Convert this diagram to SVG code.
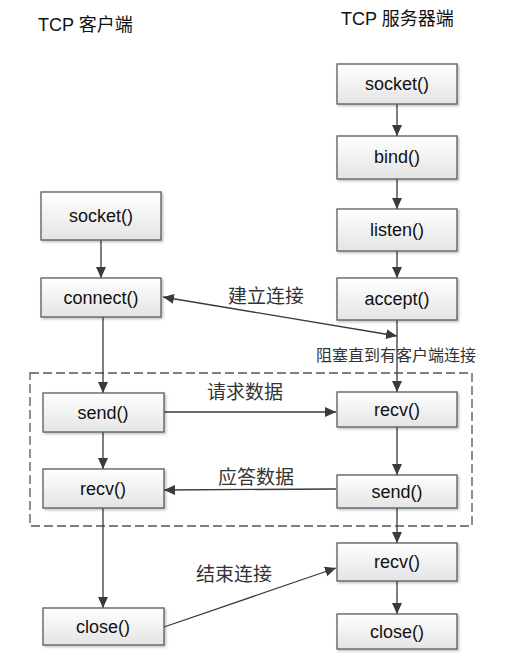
<svg xmlns="http://www.w3.org/2000/svg" width="514" height="670" viewBox="0 0 514 670">
  <defs>
    <linearGradient id="boxfill" x1="0" y1="0" x2="0" y2="1">
      <stop offset="0" stop-color="#ffffff"/>
      <stop offset="1" stop-color="#e4e4e4"/>
    </linearGradient>
    <filter id="shadow" x="-10%" y="-10%" width="125%" height="130%">
      <feDropShadow dx="1.5" dy="1.5" stdDeviation="1" flood-color="#000" flood-opacity="0.25"/>
    </filter>
    <marker id="arrow" markerUnits="userSpaceOnUse" markerWidth="12" markerHeight="12" refX="11" refY="6" orient="auto-start-reverse" viewBox="0 0 12 12">
      <path d="M0,1 L11,6 L0,11 z" fill="#3a3a3a"/>
    </marker>
  </defs>
  <style>
    .box { fill: url(#boxfill); stroke: #5a5a5a; stroke-width: 1.3; filter: url(#shadow); }
    .lbl { font-family: "Liberation Sans", "Noto Sans CJK SC", sans-serif; font-size: 18px; fill: #111; text-anchor: middle; }
    .hdr { font-family: "Liberation Sans", "Noto Sans CJK SC", sans-serif; font-size: 18px; fill: #111; }
    .cn { font-family: "Noto Sans CJK SC", sans-serif; font-size: 19px; fill: #333; text-anchor: middle; }
    .conn { stroke: #3a3a3a; stroke-width: 1.3; fill: none; marker-end: url(#arrow); }
    .dash { fill: none; stroke: #555; stroke-width: 1.3; stroke-dasharray: 9 4; }
  </style>

  <text class="hdr" x="38" y="31">TCP 客户端</text>
  <text class="hdr" x="341" y="25">TCP 服务器端</text>

  <rect class="dash" x="30" y="373" width="442" height="153"/>

  <g id="connectors">
    <!-- server column -->
    <line class="conn" x1="397" y1="104" x2="397" y2="136"/>
    <line class="conn" x1="397" y1="179" x2="397" y2="209"/>
    <line class="conn" x1="397" y1="251" x2="397" y2="278"/>
    <line class="conn" x1="397" y1="320" x2="397" y2="392"/>
    <line class="conn" x1="397" y1="427" x2="397" y2="475"/>
    <line class="conn" x1="397" y1="508" x2="397" y2="543"/>
    <line class="conn" x1="397" y1="581" x2="397" y2="614"/>
    <!-- client column -->
    <line class="conn" x1="101" y1="240" x2="101" y2="278"/>
    <line class="conn" x1="103" y1="317" x2="103" y2="393"/>
    <line class="conn" x1="103" y1="432" x2="103" y2="469"/>
    <line class="conn" x1="103" y1="508" x2="103" y2="608"/>
    <!-- cross connections -->
    <line class="conn" x1="163" y1="297" x2="397" y2="336" marker-start="url(#arrow)"/>
    <line class="conn" x1="164" y1="412" x2="336" y2="412"/>
    <line class="conn" x1="336" y1="489" x2="164" y2="490"/>
    <line class="conn" x1="164" y1="627" x2="336" y2="568"/>
  </g>

  <text class="cn" x="266" y="303">建立连接</text>
  <text class="cn" x="396" y="361" style="font-size:16px">阻塞直到有客户端连接</text>
  <text class="cn" x="245" y="399">请求数据</text>
  <text class="cn" x="256" y="484">应答数据</text>
  <text class="cn" x="234" y="581">结束连接</text>

  <g id="s_socket"><rect class="box" x="337" y="64" width="120" height="40"/><text class="lbl" x="397" y="90">socket()</text></g>
  <g id="s_bind"><rect class="box" x="337" y="136" width="120" height="43"/><text class="lbl" x="397" y="163">bind()</text></g>
  <g id="s_listen"><rect class="box" x="337" y="209" width="120" height="42"/><text class="lbl" x="397" y="236">listen()</text></g>
  <g id="s_accept"><rect class="box" x="337" y="278" width="120" height="42"/><text class="lbl" x="397" y="305">accept()</text></g>
  <g id="s_recv1"><rect class="box" x="337" y="392" width="120" height="35"/><text class="lbl" x="397" y="416">recv()</text></g>
  <g id="s_send"><rect class="box" x="337" y="475" width="120" height="33"/><text class="lbl" x="397" y="498">send()</text></g>
  <g id="s_recv2"><rect class="box" x="337" y="543" width="120" height="38"/><text class="lbl" x="397" y="568">recv()</text></g>
  <g id="s_close"><rect class="box" x="337" y="614" width="120" height="35"/><text class="lbl" x="397" y="638">close()</text></g>

  <g id="c_socket"><rect class="box" x="41" y="192" width="120" height="48"/><text class="lbl" x="101" y="222">socket()</text></g>
  <g id="c_connect"><rect class="box" x="41" y="278" width="120" height="39"/><text class="lbl" x="101" y="304">connect()</text></g>
  <g id="c_send"><rect class="box" x="43" y="393" width="121" height="39"/><text class="lbl" x="103" y="419">send()</text></g>
  <g id="c_recv"><rect class="box" x="43" y="469" width="121" height="39"/><text class="lbl" x="103" y="495">recv()</text></g>
  <g id="c_close"><rect class="box" x="43" y="608" width="121" height="37"/><text class="lbl" x="103" y="633">close()</text></g>
</svg>
